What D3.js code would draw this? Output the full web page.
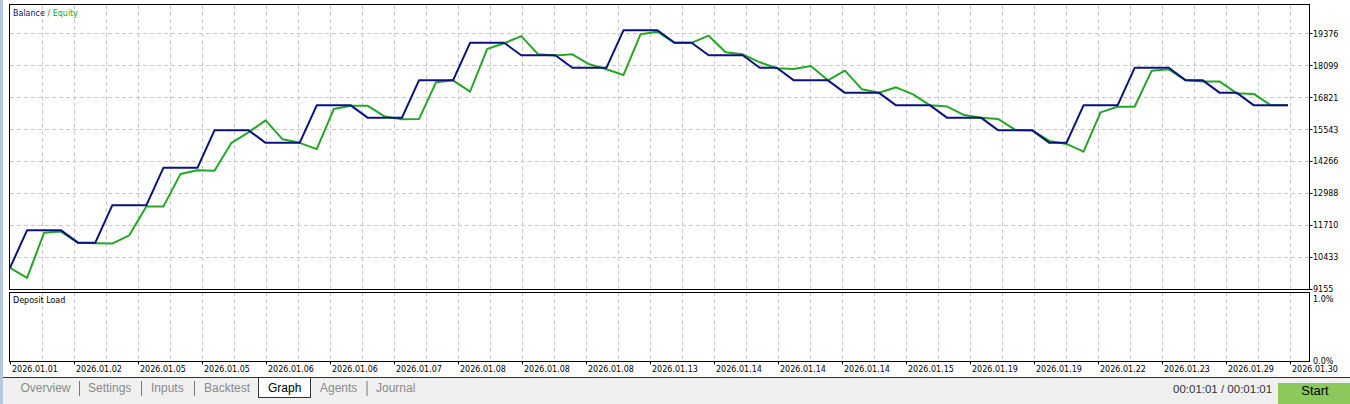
<!DOCTYPE html>
<html>
<head>
<meta charset="utf-8">
<script src="https://cdn.jsdelivr.net/npm/d3@7"></script>
<style>
  body { margin: 0; background: #fff; overflow: hidden; }
  svg text { font-family: "Liberation Sans", Arial, sans-serif; }
  svg text.small { font-family: "DejaVu Sans", sans-serif; font-size: 8px; }
</style>
</head>
<body>
<div id="chart"></div>
<script>
// balance / equity per deal step
var balance = [
	10000, 11500, 11500, 11500, 11000, 11000, 12500, 12500, 12500, 14000,
	14000, 14000, 15500, 15500, 15500, 15000, 15000, 15000, 16500, 16500,
	16500, 16000, 16000, 16000, 17500, 17500, 17500, 19000, 19000, 19000,
	18500, 18500, 18500, 18000, 18000, 18000, 19500, 19500, 19500, 19000,
	19000, 18500, 18500, 18500, 18000, 18000, 17500, 17500, 17500, 17000,
	17000, 17000, 16500, 16500, 16500, 16000, 16000, 16000, 15500, 15500,
	15500, 15000, 15000, 16500, 16500, 16500, 18000, 18000, 18000, 17500,
	17500, 17000, 17000, 16500, 16500, 16500];

var equity = [
	10000, 9600, 11400, 11450, 11000, 10980, 10970, 11300, 12450, 12450,
	13750, 13900, 13880, 15000, 15420, 15900, 15140, 15000, 14750, 16350,
	16480, 16480, 16050, 15940, 15950, 17420, 17500, 17050, 18750, 18980,
	19270, 18540, 18490, 18540, 18140, 17940, 17710, 19340, 19440, 19000,
	19000, 19285, 18620, 18540, 18220, 17980, 17950, 18070, 17500, 17885,
	17140, 17000, 17220, 16940, 16500, 16450, 16110, 16000, 15950, 15515,
	15490, 15075, 14955, 14645, 16220, 16445, 16445, 17885, 17940, 17500,
	17450, 17450, 16980, 16955, 16500, 16500];

var yTicks = [9155, 10433, 11710, 12988, 14266, 15543, 16821, 18099, 19376];
var loadTicks = [0, 1];
var loadLabels = ['0.0%', '1.0%'];
var dateLabels = ['2026.01.01', '2026.01.02', '2026.01.05', '2026.01.05', '2026.01.06',
	'2026.01.06', '2026.01.07', '2026.01.08', '2026.01.08', '2026.01.08', '2026.01.13',
	'2026.01.14', '2026.01.14', '2026.01.14', '2026.01.15', '2026.01.19', '2026.01.19',
	'2026.01.22', '2026.01.23', '2026.01.29', '2026.01.30'];
var tabs = ['Overview', 'Settings', 'Inputs', 'Backtest', 'Graph', 'Agents', 'Journal'];

var width = 1350;
var height = 404;
var left = 9.5, right = 1309.5;
var mainTop = 4.5, mainBottom = 289.5;
var loadTop = 292.5, loadBottom = 361.5;

var svg = d3.select('#chart')
			.append('svg')
			.attr('width', width)
			.attr('height', height);

// left blue strip of the window
svg.append('rect').attr('x', 0).attr('y', 0).attr('width', 3).attr('height', height).attr('fill', '#b3c7e2');

//scales
var x_scale = d3.scaleLinear().domain([0, balance.length - 1]).range([10, 1288]);
var y_scale = d3.scaleLinear().domain([9155, 20552]).range([289, 4]);
var load_scale = d3.scaleLinear().domain([0, 1]).range([361, 292]);
var grid_scale = d3.scaleLinear().domain([0, 40]).range([10, 1290]);
var date_scale = d3.scaleLinear().domain([0, dateLabels.length - 1]).range([10, 1290]);

//grid
var grid = svg.append('g')
			.attr('stroke', '#c8c8c8')
			.attr('stroke-dasharray', '4,3')
			.attr('shape-rendering', 'crispEdges');

grid.selectAll('line.v')
	.data(d3.range(1, 41))
	.enter()
	.append('line')
	.attr('class', 'v')
	.attr('x1', function(d){ return Math.round(grid_scale(d)) + 0.5; })
	.attr('x2', function(d){ return Math.round(grid_scale(d)) + 0.5; })
	.attr('y1', mainTop)
	.attr('y2', loadBottom);

grid.selectAll('line.h')
	.data(yTicks.slice(1))
	.enter()
	.append('line')
	.attr('class', 'h')
	.attr('x1', left)
	.attr('x2', right)
	.attr('y1', function(d){ return Math.round(y_scale(d)) + 0.5; })
	.attr('y2', function(d){ return Math.round(y_scale(d)) + 0.5; });

// white gap between the two panels
svg.append('rect').attr('x', left).attr('y', mainBottom).attr('width', right - left).attr('height', loadTop - mainBottom).attr('fill', '#fff');

//lines
var line = d3.line()
			.x(function(d, i){ return x_scale(i); })
			.y(function(d){ return y_scale(d); });

svg.append('path')
	.datum(equity)
	.attr('d', line)
	.attr('fill', 'none')
	.attr('stroke', '#26a626')
	.attr('stroke-width', 2)
	.attr('stroke-linejoin', 'round');

svg.append('path')
	.datum(balance)
	.attr('d', line)
	.attr('fill', 'none')
	.attr('stroke', '#0a1280')
	.attr('stroke-width', 2)
	.attr('stroke-linejoin', 'round');

//frames
var frames = svg.append('g').attr('fill', 'none').attr('stroke', '#000').attr('shape-rendering', 'crispEdges');
frames.append('rect').attr('x', left).attr('y', mainTop).attr('width', right - left).attr('height', mainBottom - mainTop);
frames.append('rect').attr('x', left).attr('y', loadTop).attr('width', right - left).attr('height', loadBottom - loadTop);

//right axis
var yAxis = svg.append('g');
yAxis.selectAll('line')
	.data(yTicks)
	.enter()
	.append('line')
	.attr('x1', right)
	.attr('x2', right + 3)
	.attr('y1', function(d){ return Math.round(y_scale(d)) + 0.5; })
	.attr('y2', function(d){ return Math.round(y_scale(d)) + 0.5; })
	.attr('stroke', '#000');

yAxis.selectAll('text')
	.data(yTicks)
	.enter()
	.append('text')
	.attr('class', 'small')
	.text(function(d){ return d; })
	.attr('x', 1313)
	.attr('y', function(d){ return y_scale(d) + 0.8; })
	.attr('dominant-baseline', 'middle')
	.attr('fill', '#000');

//date labels
var xAxis = svg.append('g');
xAxis.selectAll('line')
	.data(dateLabels)
	.enter()
	.append('line')
	.attr('x1', function(d, i){ return Math.round(date_scale(i)) + 0.5; })
	.attr('x2', function(d, i){ return Math.round(date_scale(i)) + 0.5; })
	.attr('y1', loadBottom)
	.attr('y2', loadBottom + 3)
	.attr('stroke', '#000');

xAxis.selectAll('text')
	.data(dateLabels)
	.enter()
	.append('text')
	.attr('class', 'small')
	.text(function(d){ return d; })
	.attr('x', function(d, i){ return date_scale(i) + 2; })
	.attr('y', 369.5)
	.attr('dominant-baseline', 'middle')
	.attr('fill', '#000');

//deposit load axis
var loadAxis = svg.append('g');
loadAxis.selectAll('rect')
	.data(loadTicks)
	.enter()
	.append('rect')
	.attr('x', 1311)
	.attr('y', function(d){ return Math.max(load_scale(d), 298.5) - 4; })
	.attr('width', 26)
	.attr('height', 8)
	.attr('fill', '#fff');

loadAxis.selectAll('text')
	.data(loadTicks)
	.enter()
	.append('text')
	.attr('class', 'small')
	.text(function(d, i){ return loadLabels[i]; })
	.attr('x', 1313)
	.attr('y', function(d){ return Math.max(load_scale(d), 298.5) + 0.5; })
	.attr('dominant-baseline', 'middle')
	.attr('fill', '#000');

//titles
var legend = svg.append('text').attr('class', 'small').attr('x', 13).attr('y', 13).attr('dominant-baseline', 'middle');
legend.append('tspan').text('Balance').attr('fill', '#0a1280');
legend.append('tspan').text(' / ').attr('fill', '#555');
legend.append('tspan').text('Equity').attr('fill', '#26a626');

svg.append('text').text('Deposit Load')
	.attr('class', 'small')
	.attr('x', 13).attr('y', 300.5)
	.attr('dominant-baseline', 'middle')
	.attr('fill', '#000');

//tab bar
var bar = svg.append('g');
bar.append('rect').attr('x', 3).attr('y', 377).attr('width', width - 3).attr('height', height - 377).attr('fill', '#f0f0f0');
bar.append('line').attr('x1', 3).attr('x2', width).attr('y1', 377.5).attr('y2', 377.5).attr('stroke', '#333').attr('shape-rendering', 'crispEdges');
bar.append('rect').attr('x', 258.5).attr('y', 377.5).attr('width', 51.5).attr('height', 20).attr('fill', '#fff').attr('stroke', '#333').attr('shape-rendering', 'crispEdges');

var tabX = [20.5, 88, 151, 204, 268, 320, 376];
var sepX = [79.5, 141.5, 194.5, 367];
bar.selectAll('text.tab')
	.data(tabs)
	.enter()
	.append('text')
	.attr('class', 'tab')
	.text(function(d){ return d; })
	.attr('x', function(d, i){ return tabX[i]; })
	.attr('y', 388.5)
	.attr('dominant-baseline', 'middle')
	.attr('font-size', 12)
	.attr('fill', function(d){ return d === 'Graph' ? '#000' : '#8a8a8a'; });

bar.selectAll('line.sep')
	.data(sepX)
	.enter()
	.append('line')
	.attr('class', 'sep')
	.attr('x1', function(d){ return d; })
	.attr('x2', function(d){ return d; })
	.attr('y1', 381)
	.attr('y2', 396)
	.attr('stroke', '#777');

bar.append('text').text('00:01:01 / 00:01:01')
	.attr('x', 1173).attr('y', 390)
	.attr('dominant-baseline', 'middle')
	.attr('font-size', 11.5)
	.attr('fill', '#333');

bar.append('rect').attr('x', 1278).attr('y', 383).attr('width', 72).attr('height', 21).attr('fill', '#8cc85c');
bar.append('text').text('Start')
	.attr('x', 1315).attr('y', 392)
	.attr('text-anchor', 'middle')
	.attr('dominant-baseline', 'middle')
	.attr('font-size', 13)
	.attr('fill', '#000');
</script>
</body>
</html>
